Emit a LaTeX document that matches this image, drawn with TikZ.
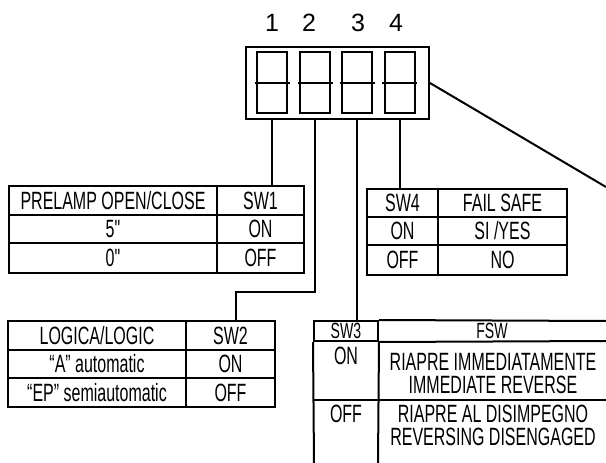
\documentclass[tikz,border=0pt]{standalone}
\usepackage{fontspec}
\setmainfont{Liberation Sans}
\newfontfamily\cond[FakeStretch=0.64]{Liberation Sans}
\begin{document}
\begin{tikzpicture}[x=1pt,y=-1pt,
  lw/.style={line width=2pt},
  cell/.style 2 args={draw, lw, inner sep=0pt, minimum width=#1, minimum height=#2,
    font=\cond\fontsize{25}{27}\selectfont},
  txt/.style={inner sep=0pt, font=\cond\fontsize{25}{27}\selectfont},
  small/.style={font=\cond\fontsize{22}{24}\selectfont},
  key/.style={draw, lw, inner sep=0pt, minimum width=30pt, minimum height=61pt},
  num/.style={inner sep=0pt, font=\fontsize{25}{27}\selectfont},
  wire/.style={lw}]
\useasboundingbox (0,0) rectangle (606,463);

% DIP switch
\node[draw, lw, inner sep=0pt, minimum width=183pt, minimum height=72pt] (dip) at (337.5,83) {};
\node[key] (k1) at (272,82.5) {};
\node[key] (k2) at (315,82.5) {};
\node[key] (k3) at (357,82.5) {};
\node[key] (k4) at (399.5,82.5) {};
\foreach \k in {k1,k2,k3,k4}{
  \draw[lw] ([xshift=-1.5pt]\k.west) -- ([xshift=1.5pt]\k.east);
}
\node[num] (n1) at (272,23) {1};
\node[num] (n2) at (309,23) {2};
\node[num] (n3) at (358,23) {3};
\node[num] (n4) at (396,23) {4};

% SW1 table
\node[cell={208pt}{29pt}] (a11) at (113,200.5) {PRELAMP OPEN/CLOSE};
\node[cell={87pt}{29pt}]  (b11) at (260.5,200.5) {SW1};
\node[cell={208pt}{28pt}] (a12) at (113,229) {5"};
\node[cell={87pt}{28pt}]  (b12) at (260.5,229) {ON};
\node[cell={208pt}{30pt}] (a13) at (113,258) {0"};
\node[cell={87pt}{30pt}]  (b13) at (260.5,258) {OFF};

% SW2 table
\node[cell={178pt}{29pt}] (a21) at (97,335.5) {LOGICA/LOGIC};
\node[cell={89pt}{29pt}]  (b21) at (230.5,335.5) {\raisebox{-3pt}{SW2}};
\node[cell={178pt}{28pt}] (a22) at (97,364) {“A” automatic};
\node[cell={89pt}{28pt}]  (b22) at (230.5,364) {ON};
\node[cell={178pt}{29pt}] (a23) at (97,392.5) {“EP” semiautomatic};
\node[cell={89pt}{29pt}]  (b23) at (230.5,392.5) {OFF};

% SW4 table
\node[cell={71pt}{28pt}]  (a41) at (402.5,203) {SW4};
\node[cell={129pt}{28pt}] (b41) at (502.5,203) {FAIL SAFE};
\node[cell={71pt}{28pt}]  (a42) at (402.5,231) {ON};
\node[cell={129pt}{28pt}] (b42) at (502.5,231) {SI /YES};
\node[cell={71pt}{30pt}]  (a43) at (402.5,260) {OFF};
\node[cell={129pt}{30pt}] (b43) at (502.5,260) {NO};

% SW3 table (open to the right and bottom)
\node[cell={64pt}{20pt}, small] (a31) at (346,331) {SW3};
\coordinate (r1) at (606,321);
\coordinate (r2) at (606,341);
\coordinate (r3) at (606,400);
\coordinate (bl) at (314,463);
\coordinate (bm) at (378,463);
\draw[lw] (a31.north east) -- (r1);
\draw[lw] (a31.south east) -- (r2);
\draw[lw] (a31.west |- r3) -- (r3);
\draw[lw] (a31.south west) -- (bl);
\draw[lw] (a31.south east) -- (bm);
\node[txt, small] (b31) at (492,331) {FSW};
\node[txt] (a32) at (346,356) {ON};
\node[txt] (b32a) at (493,362) {RIAPRE IMMEDIATAMENTE};
\node[txt] (b32b) at (493,385) {IMMEDIATE REVERSE};
\node[txt] (a33) at (346,414) {OFF};
\node[txt] (b33a) at (493,414) {RIAPRE AL DISIMPEGNO};
\node[txt] (b33b) at (493,437) {REVERSING DISENGAGED};

% connectors
\coordinate (j2) at (236,292);
\coordinate (tail) at (606,187);
\draw[wire] (dip.south -| k1) -- (k1 |- b11.north);
\draw[wire] (dip.south -| k2) |- (j2) -- (j2 |- b21.north);
\draw[wire] (dip.south -| k3) -- (k3 |- a31.north);
\draw[wire] (dip.south -| k4) -- (k4 |- a41.north);
\draw[wire] (dip.east) -- (tail);
\end{tikzpicture}
\end{document}
